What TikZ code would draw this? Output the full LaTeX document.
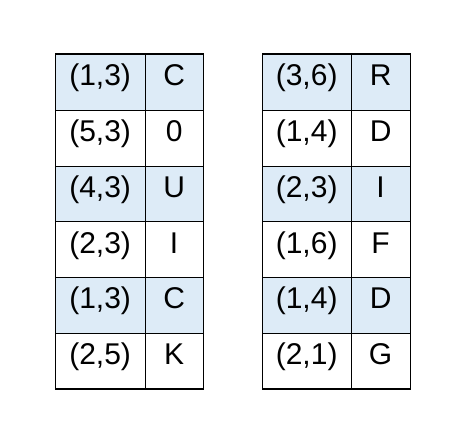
\documentclass[tikz,border=0pt]{standalone}
\usepackage{fontspec}
\setmainfont{Liberation Sans}
\usetikzlibrary{matrix, fit}
\definecolor{rowblue}{HTML}{DDEBF7}

\begin{document}
\begin{tikzpicture}[
				x=1pt, y=1pt,
				font=\fontsize{30}{35}\selectfont,
				every matrix/.style={column sep=-0.8pt, row sep=-0.8pt, inner sep=0pt, outer sep=0pt, anchor=north west},
				cell/.style={draw, line width=0.8pt, inner sep=0pt, outer sep=0pt, minimum height=55.75pt, text height=0.7em, text depth=0pt, anchor=center},
				hl/.style={fill=rowblue},
				frame/.style={draw, line width=1.8pt, inner sep=0pt}
				]
				\useasboundingbox (0,0) rectangle (460,440);
				
				\matrix (lefttab) at (55,386) [matrix of nodes, ampersand replacement=\&,
					nodes={cell},
					column 1/.style={nodes={minimum width=89.5pt}},
					column 2/.style={nodes={minimum width=58.5pt}},
					row 1/.style={nodes={hl}}, row 3/.style={nodes={hl}}, row 5/.style={nodes={hl}}]
				{
					(1,3) \& C \\
					(5,3) \& 0 \\
					(4,3) \& U \\
					(2,3) \& I \\
					(1,3) \& C \\
					(2,5) \& K \\
				};
				
				\matrix (righttab) at (262,386) [matrix of nodes, ampersand replacement=\&,
					nodes={cell},
					column 1/.style={nodes={minimum width=88.5pt}},
					column 2/.style={nodes={minimum width=59.5pt}},
					row 1/.style={nodes={hl}}, row 3/.style={nodes={hl}}, row 5/.style={nodes={hl}}]
				{
					(3,6) \& R \\
					(1,4) \& D \\
					(2,3) \& I \\
					(1,6) \& F \\
					(1,4) \& D \\
					(2,1) \& G \\
				};
				
				\node[frame, fit=(lefttab-1-1)(lefttab-6-2)] (leftframe) {};
				\node[frame, fit=(righttab-1-1)(righttab-6-2)] (rightframe) {};
				\end{tikzpicture}
\end{document}
